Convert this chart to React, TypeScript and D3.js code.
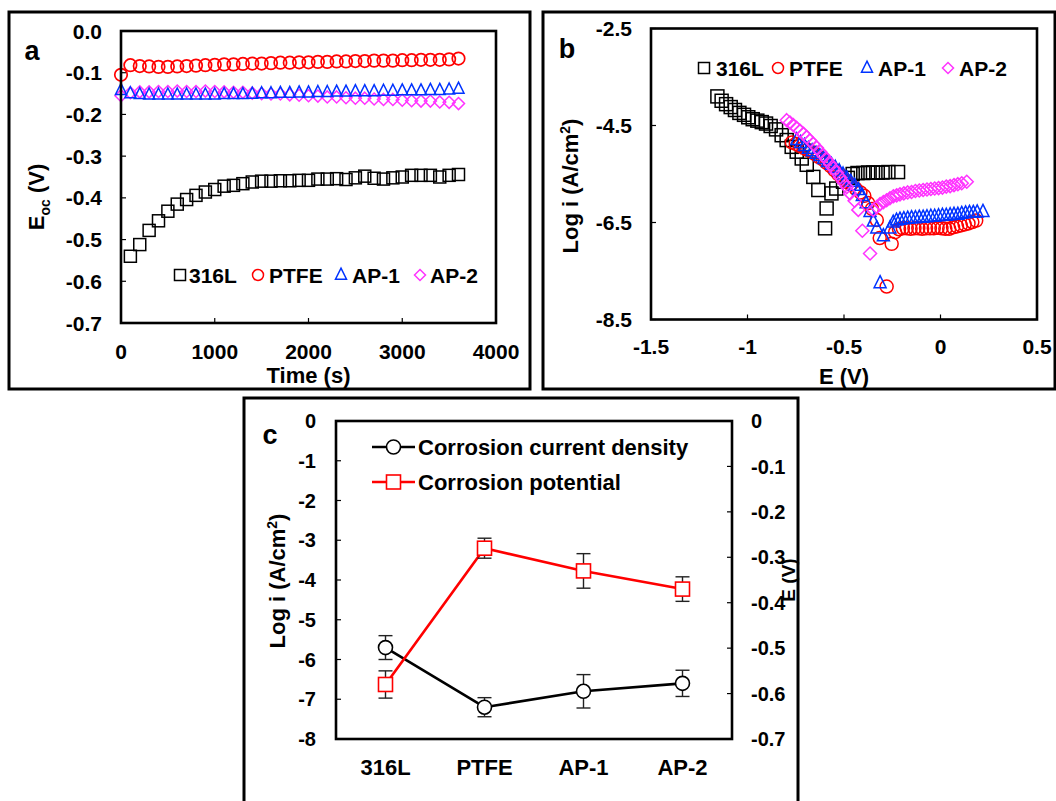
import React from 'react';
import * as d3 from 'd3';

const FONT = "'Liberation Sans', Arial, Helvetica, sans-serif";
const RED = '#ff0000';
const BLUE = '#0033ff';
const PINK = '#ff33ff';

// ---------------- Panel a : open circuit potential ----------------
const timeA = [0, 100, 200, 300, 400, 500, 600, 700, 800, 900, 1000, 1100, 1200, 1300, 1400, 1500, 1600, 1700, 1800, 1900, 2000, 2100, 2200, 2300, 2400, 2500, 2600, 2700, 2800, 2900, 3000, 3100, 3200, 3300, 3400, 3500, 3600];
const time316L = [100, 200, 300, 400, 500, 600, 700, 800, 900, 1000, 1100, 1200, 1300, 1400, 1500, 1600, 1700, 1800, 1900, 2000, 2100, 2200, 2300, 2400, 2500, 2600, 2700, 2800, 2900, 3000, 3100, 3200, 3300, 3400, 3500, 3600];
const eoc316L = [-0.540, -0.512, -0.478, -0.455, -0.432, -0.415, -0.404, -0.394, -0.386, -0.380, -0.372, -0.370, -0.366, -0.362, -0.360, -0.360, -0.359, -0.359, -0.358, -0.358, -0.355, -0.355, -0.354, -0.356, -0.352, -0.348, -0.353, -0.355, -0.352, -0.350, -0.346, -0.346, -0.346, -0.350, -0.346, -0.344];
const eocPTFE = [-0.105, -0.082, -0.084, -0.085, -0.086, -0.086, -0.085, -0.084, -0.083, -0.082, -0.081, -0.080, -0.080, -0.079, -0.078, -0.078, -0.077, -0.076, -0.076, -0.075, -0.075, -0.074, -0.074, -0.073, -0.073, -0.072, -0.072, -0.071, -0.071, -0.071, -0.070, -0.070, -0.069, -0.069, -0.069, -0.068, -0.066];
const eocAP1 = [-0.142, -0.150, -0.152, -0.153, -0.153, -0.153, -0.153, -0.153, -0.153, -0.153, -0.153, -0.152, -0.152, -0.152, -0.151, -0.150, -0.150, -0.149, -0.149, -0.148, -0.148, -0.147, -0.147, -0.146, -0.146, -0.145, -0.145, -0.145, -0.144, -0.144, -0.143, -0.143, -0.143, -0.142, -0.142, -0.141, -0.139];
const eocAP2 = [-0.155, -0.148, -0.146, -0.146, -0.145, -0.145, -0.144, -0.145, -0.145, -0.144, -0.145, -0.146, -0.147, -0.147, -0.149, -0.150, -0.151, -0.151, -0.153, -0.154, -0.155, -0.156, -0.158, -0.158, -0.160, -0.161, -0.161, -0.163, -0.164, -0.164, -0.166, -0.167, -0.168, -0.168, -0.170, -0.171, -0.174];
const ticksAx = [0, 1000, 2000, 3000, 4000];
const ticksAy = [0, -0.1, -0.2, -0.3, -0.4, -0.5, -0.6, -0.7];
const labelsAy = ['0.0', '-0.1', '-0.2', '-0.3', '-0.4', '-0.5', '-0.6', '-0.7'];

// ---------------- Panel b : polarization curves (E, log i) ----------------
const pol316L: [number, number][] = [
  [-1.156, -3.90], [-1.134, -3.99], [-1.111, -4.06], [-1.087, -4.12], [-1.065, -4.18], [-1.042, -4.24],
  [-1.018, -4.28], [-0.996, -4.33], [-0.973, -4.37], [-0.949, -4.40], [-0.926, -4.43], [-0.904, -4.46],
  [-0.880, -4.51], [-0.852, -4.58], [-0.823, -4.70], [-0.797, -4.80], [-0.771, -4.94], [-0.745, -5.04],
  [-0.719, -5.18], [-0.693, -5.31], [-0.659, -5.56], [-0.633, -5.83], [-0.590, -6.21], [-0.598, -6.62],
  [-0.565, -5.90], [-0.540, -5.80], [-0.505, -5.66], [-0.480, -5.58], [-0.455, -5.50], [-0.430, -5.48],
  [-0.400, -5.48], [-0.375, -5.47], [-0.350, -5.47], [-0.325, -5.47], [-0.300, -5.47], [-0.270, -5.46],
  [-0.220, -5.46],
];
const polPTFE: [number, number][] = [
  [-0.770, -4.85], [-0.750, -4.88], [-0.730, -4.92], [-0.710, -4.96], [-0.690, -5.00], [-0.670, -5.04],
  [-0.650, -5.09], [-0.630, -5.15], [-0.610, -5.20], [-0.590, -5.27], [-0.570, -5.34], [-0.550, -5.42],
  [-0.530, -5.50], [-0.510, -5.58], [-0.490, -5.65], [-0.465, -5.72], [-0.440, -5.80], [-0.415, -5.88],
  [-0.395, -5.95], [-0.375, -6.10], [-0.355, -6.22], [-0.330, -6.45], [-0.315, -6.82], [-0.279, -7.82],
  [-0.253, -6.94], [-0.235, -6.70], [-0.215, -6.64], [-0.195, -6.62], [-0.175, -6.62], [-0.155, -6.63],
  [-0.135, -6.62], [-0.115, -6.62], [-0.095, -6.63], [-0.075, -6.62], [-0.055, -6.62], [-0.035, -6.62],
  [-0.015, -6.61], [0.005, -6.62], [0.025, -6.63], [0.045, -6.63], [0.065, -6.60], [0.085, -6.58],
  [0.105, -6.56], [0.125, -6.54], [0.145, -6.52], [0.165, -6.49], [0.185, -6.46],
];
const polAP1: [number, number][] = [
  [-0.745, -4.80], [-0.725, -4.86], [-0.705, -4.92], [-0.685, -4.98], [-0.665, -5.03], [-0.645, -5.08],
  [-0.625, -5.13], [-0.605, -5.19], [-0.585, -5.25], [-0.565, -5.31], [-0.545, -5.37], [-0.525, -5.44],
  [-0.505, -5.51], [-0.485, -5.59], [-0.465, -5.66], [-0.445, -5.74], [-0.425, -5.83], [-0.405, -5.95],
  [-0.385, -6.10], [-0.365, -6.28], [-0.348, -6.48], [-0.330, -6.62], [-0.296, -6.78], [-0.313, -7.75],
  [-0.262, -6.62], [-0.245, -6.50], [-0.228, -6.46], [-0.210, -6.44], [-0.190, -6.43], [-0.170, -6.42],
  [-0.150, -6.41], [-0.130, -6.41], [-0.110, -6.40], [-0.090, -6.40], [-0.070, -6.39], [-0.050, -6.38],
  [-0.030, -6.38], [-0.010, -6.37], [0.010, -6.36], [0.030, -6.36], [0.050, -6.35], [0.070, -6.34],
  [0.090, -6.34], [0.110, -6.32], [0.130, -6.31], [0.150, -6.30], [0.170, -6.30], [0.190, -6.29],
  [0.220, -6.28],
];
const polAP2: [number, number][] = [
  [-0.797, -4.39], [-0.780, -4.44], [-0.763, -4.49], [-0.745, -4.55], [-0.728, -4.61], [-0.710, -4.67],
  [-0.693, -4.74], [-0.676, -4.81], [-0.659, -4.88], [-0.641, -4.96], [-0.624, -5.04], [-0.607, -5.12],
  [-0.590, -5.20], [-0.572, -5.29], [-0.555, -5.38], [-0.538, -5.47], [-0.520, -5.57], [-0.503, -5.67],
  [-0.486, -5.77], [-0.469, -5.90], [-0.445, -6.05], [-0.426, -6.24], [-0.405, -6.67], [-0.365, -7.14],
  [-0.348, -6.24], [-0.330, -6.18], [-0.313, -6.12], [-0.296, -6.08], [-0.279, -6.04], [-0.262, -6.00],
  [-0.244, -5.96], [-0.227, -5.94], [-0.210, -5.92], [-0.190, -5.90], [-0.170, -5.88], [-0.150, -5.87],
  [-0.130, -5.85], [-0.110, -5.84], [-0.090, -5.83], [-0.070, -5.82], [-0.050, -5.81], [-0.030, -5.80],
  [-0.010, -5.79], [0.010, -5.78], [0.030, -5.76], [0.050, -5.75], [0.070, -5.73], [0.090, -5.71],
  [0.110, -5.69], [0.136, -5.66],
];
const ticksBx = [-1.5, -1, -0.5, 0, 0.5];
const ticksBy = [-2.5, -4.5, -6.5, -8.5];

// ---------------- Panel c : corrosion parameters ----------------
const categoriesC = ['316L', 'PTFE', 'AP-1', 'AP-2'];
const logICorr = [-5.7, -7.2, -6.8, -6.6];
const logICorrErr = [0.3, 0.24, 0.42, 0.33];
const eCorr = [-0.58, -0.28, -0.33, -0.37];
const eCorrErr = [0.03, 0.022, 0.038, 0.027];
const ticksCLeft = [0, -1, -2, -3, -4, -5, -6, -7, -8];
const ticksCRight = [0, -0.1, -0.2, -0.3, -0.4, -0.5, -0.6, -0.7];

const legendAB = [
  { name: '316L', shape: 'square', color: '#000' },
  { name: 'PTFE', shape: 'circle', color: RED },
  { name: 'AP-1', shape: 'triangle', color: BLUE },
  { name: 'AP-2', shape: 'diamond', color: PINK },
];

type Shape = 'square' | 'circle' | 'triangle' | 'diamond';

function Marker({ shape, x, y, s, color, fill = 'none', sw = 1.5 }: { shape: Shape; x: number; y: number; s: number; color: string; fill?: string; sw?: number }) {
  if (shape === 'square') return <rect x={x - s / 2} y={y - s / 2} width={s} height={s} fill={fill} stroke={color} strokeWidth={sw} />;
  if (shape === 'circle') return <circle cx={x} cy={y} r={s / 2} fill={fill} stroke={color} strokeWidth={sw} />;
  if (shape === 'triangle') {
    const p = d3.path();
    p.moveTo(x, y - s * 0.62); p.lineTo(x + s * 0.5, y + s * 0.38); p.lineTo(x - s * 0.5, y + s * 0.38); p.closePath();
    return <path d={p.toString()} fill={fill} stroke={color} strokeWidth={sw} />;
  }
  const p = d3.path();
  p.moveTo(x, y - s / 2); p.lineTo(x + s / 2, y); p.lineTo(x, y + s / 2); p.lineTo(x - s / 2, y); p.closePath();
  return <path d={p.toString()} fill={fill} stroke={color} strokeWidth={sw} />;
}

const txt = { fontFamily: FONT, fontWeight: 700, fill: '#000' } as const;

function Legend({ y, items }: { y: number; items: { mx: number; tx: number }[] }) {
  return (
    <g>
      {legendAB.map((d, i) => (
        <g key={d.name}>
          <Marker shape={d.shape as Shape} x={items[i].mx} y={y} s={11} color={d.color} />
          <text x={items[i].tx} y={y} dy="0.36em" fontSize={21} {...txt}>{d.name}</text>
        </g>
      ))}
    </g>
  );
}

function PanelA() {
  const L = 121, R = 496, T = 31, B = 323;
  const x = d3.scaleLinear().domain([0, 4000]).range([L, R]);
  const y = d3.scaleLinear().domain([0, -0.7]).range([T, B]);
  return (
    <g>
      <rect x={9} y={12} width={521} height={377} fill="none" stroke="#000" strokeWidth={3} />
      <text x={32} y={50} dy="0.36em" textAnchor="middle" fontSize={27} {...txt}>a</text>
      {ticksAy.map((v, i) => (
        <g key={v}>
          <line x1={L} x2={L + 5} y1={y(v)} y2={y(v)} stroke="#000" strokeWidth={1.2} />
          <text x={102} y={y(v)} dy="0.36em" textAnchor="end" fontSize={21} {...txt}>{labelsAy[i]}</text>
        </g>
      ))}
      {ticksAx.map((v) => (
        <g key={v}>
          <line x1={x(v)} x2={x(v)} y1={B} y2={B - 5} stroke="#000" strokeWidth={1.2} />
          <text x={x(v)} y={351} dy="0.36em" textAnchor="middle" fontSize={21} {...txt}>{String(v)}</text>
        </g>
      ))}
      <text x={(L + R) / 2} y={375} dy="0.36em" textAnchor="middle" fontSize={22} {...txt}>Time (s)</text>
      <text transform={`translate(36,197) rotate(-90)`} textAnchor="middle" dy="0.36em" fontSize={22} {...txt}>
        E<tspan fontSize={14} dy={6}>oc</tspan><tspan dy={-6}> (V)</tspan>
      </text>
      {time316L.map((t, i) => <Marker key={'s' + i} shape="square" x={x(t)} y={y(eoc316L[i])} s={12} color="#000" />)}
      {timeA.map((t, i) => <Marker key={'d' + i} shape="diamond" x={x(t)} y={y(eocAP2[i])} s={12} color={PINK} />)}
      {timeA.map((t, i) => <Marker key={'t' + i} shape="triangle" x={x(t)} y={y(eocAP1[i])} s={11} color={BLUE} />)}
      {timeA.map((t, i) => <Marker key={'c' + i} shape="circle" x={x(t)} y={y(eocPTFE[i])} s={12.5} color={RED} sw={1.7} />)}
      <Legend y={275} items={[{ mx: 180, tx: 189 }, { mx: 258, tx: 269 }, { mx: 341, tx: 352 }, { mx: 420, tx: 430 }]} />
      <rect x={L} y={T} width={R - L} height={B - T} fill="none" stroke="#000" strokeWidth={2.6} />
    </g>
  );
}

function PanelB() {
  const L = 651, R = 1037, T = 28.5, B = 319.5;
  const x = d3.scaleLinear().domain([-1.5, 0.5]).range([L, R]);
  const y = d3.scaleLinear().domain([-2.5, -8.5]).range([T, B]);
  return (
    <g>
      <rect x={543} y={12} width={512} height={377} fill="none" stroke="#000" strokeWidth={3} />
      <text x={567} y={48} dy="0.36em" textAnchor="middle" fontSize={27} {...txt}>b</text>
      {ticksBy.map((v) => (
        <g key={v}>
          <line x1={L} x2={L + 5} y1={y(v)} y2={y(v)} stroke="#000" strokeWidth={1.2} />
          <text x={632} y={y(v)} dy="0.36em" textAnchor="end" fontSize={21} {...txt}>{String(v)}</text>
        </g>
      ))}
      {ticksBx.map((v) => (
        <g key={v}>
          <line x1={x(v)} x2={x(v)} y1={B} y2={B - 5} stroke="#000" strokeWidth={1.2} />
          <text x={x(v)} y={346} dy="0.36em" textAnchor="middle" fontSize={21} {...txt}>{String(v)}</text>
        </g>
      ))}
      <text x={(L + R) / 2} y={376} dy="0.36em" textAnchor="middle" fontSize={22} {...txt}>E (V)</text>
      <text transform={`translate(570,186) rotate(-90)`} textAnchor="middle" dy="0.36em" fontSize={22} {...txt}>
        Log i (A/cm<tspan fontSize={14} dy={-8}>2</tspan><tspan dy={8}>)</tspan>
      </text>
      {pol316L.map((d, i) => <Marker key={'s' + i} shape="square" x={x(d[0])} y={y(d[1])} s={13} color="#000" />)}
      {polPTFE.map((d, i) => <Marker key={'c' + i} shape="circle" x={x(d[0])} y={y(d[1])} s={13} color={RED} />)}
      {polAP1.map((d, i) => <Marker key={'t' + i} shape="triangle" x={x(d[0])} y={y(d[1])} s={12} color={BLUE} />)}
      {polAP2.map((d, i) => <Marker key={'d' + i} shape="diamond" x={x(d[0])} y={y(d[1])} s={13} color={PINK} />)}
      <Legend y={68} items={[{ mx: 704, tx: 716 }, { mx: 778, tx: 789 }, { mx: 867, tx: 878 }, { mx: 948, tx: 959 }]} />
      <rect x={L} y={T} width={R - L} height={B - T} fill="none" stroke="#000" strokeWidth={2.6} />
    </g>
  );
}

function PanelC() {
  const L = 336, R = 732, T = 421, B = 739;
  const x = d3.scalePoint<string>().domain(categoriesC).range([L, R]).padding(0.5);
  const yL = d3.scaleLinear().domain([0, -8]).range([T, B]);
  const yR = d3.scaleLinear().domain([0, -0.7]).range([T, B]);
  const lineL = d3.line<number>().x((_, i) => x(categoriesC[i])!).y((v) => yL(v));
  const lineR = d3.line<number>().x((_, i) => x(categoriesC[i])!).y((v) => yR(v));
  const cap = 7;
  return (
    <g>
      <rect x={244} y={398} width={554} height={410} fill="none" stroke="#000" strokeWidth={3} />
      <text x={270} y={434} dy="0.36em" textAnchor="middle" fontSize={27} {...txt}>c</text>
      {ticksCLeft.map((v) => (
        <g key={'l' + v}>
          <line x1={L} x2={L + 5} y1={yL(v)} y2={yL(v)} stroke="#000" strokeWidth={1.2} />
          <text x={316} y={yL(v)} dy="0.36em" textAnchor="end" fontSize={20} {...txt}>{String(v)}</text>
        </g>
      ))}
      {ticksCRight.map((v) => (
        <g key={'r' + v}>
          <line x1={R} x2={R - 5} y1={yR(v)} y2={yR(v)} stroke="#000" strokeWidth={1.2} />
          <text x={751} y={yR(v)} dy="0.36em" textAnchor="start" fontSize={20} {...txt}>{String(v)}</text>
        </g>
      ))}
      {categoriesC.map((c) => (
        <text key={c} x={x(c)!} y={767} dy="0.36em" textAnchor="middle" fontSize={22} {...txt}>{c}</text>
      ))}
      <text transform={`translate(277,581) rotate(-90)`} textAnchor="middle" dy="0.36em" fontSize={22} {...txt}>
        Log i (A/cm<tspan fontSize={14} dy={-8}>2</tspan><tspan dy={8}>)</tspan>
      </text>
      <text transform={`translate(788,580) rotate(-90)`} textAnchor="middle" dy="0.36em" fontSize={19} {...txt}>E (V)</text>

      <path d={lineL(logICorr)!} fill="none" stroke="#000" strokeWidth={2.6} />
      <path d={lineR(eCorr)!} fill="none" stroke={RED} strokeWidth={2.6} />
      {categoriesC.map((c, i) => {
        const cx = x(c)!;
        const a1 = yL(logICorr[i] + logICorrErr[i]), a2 = yL(logICorr[i] - logICorrErr[i]);
        const b1 = yR(eCorr[i] + eCorrErr[i]), b2 = yR(eCorr[i] - eCorrErr[i]);
        return (
          <g key={'e' + c} stroke="#222" strokeWidth={1.4}>
            <line x1={cx} x2={cx} y1={a1} y2={a2} />
            <line x1={cx - cap} x2={cx + cap} y1={a1} y2={a1} />
            <line x1={cx - cap} x2={cx + cap} y1={a2} y2={a2} />
            <line x1={cx} x2={cx} y1={b1} y2={b2} />
            <line x1={cx - cap} x2={cx + cap} y1={b1} y2={b1} />
            <line x1={cx - cap} x2={cx + cap} y1={b2} y2={b2} />
          </g>
        );
      })}
      {categoriesC.map((c, i) => <Marker key={'cc' + c} shape="circle" x={x(c)!} y={yL(logICorr[i])} s={14} color="#000" fill="#fff" sw={1.6} />)}
      {categoriesC.map((c, i) => <Marker key={'cs' + c} shape="square" x={x(c)!} y={yR(eCorr[i])} s={14} color={RED} fill="#fff" sw={1.6} />)}

      <line x1={372} x2={415} y1={447} y2={447} stroke="#000" strokeWidth={2.6} />
      <Marker shape="circle" x={393.5} y={447} s={14} color="#000" fill="#fff" sw={1.6} />
      <text x={418} y={447} dy="0.36em" fontSize={22} {...txt}>Corrosion current density</text>
      <line x1={372} x2={415} y1={482} y2={482} stroke={RED} strokeWidth={2.6} />
      <Marker shape="square" x={393.5} y={482} s={14} color={RED} fill="#fff" sw={1.6} />
      <text x={418} y={482} dy="0.36em" fontSize={22} {...txt}>Corrosion potential</text>

      <rect x={L} y={T} width={R - L} height={B - T} fill="none" stroke="#000" strokeWidth={2.6} />
    </g>
  );
}

export default function App() {
  return (
    <svg width={1056} height={801} viewBox="0 0 1056 801" style={{ position: 'absolute', left: 0, top: 0, background: '#fff' }}>
      <rect x={0} y={0} width={1056} height={801} fill="#fff" />
      <PanelA />
      <PanelB />
      <PanelC />
    </svg>
  );
}
